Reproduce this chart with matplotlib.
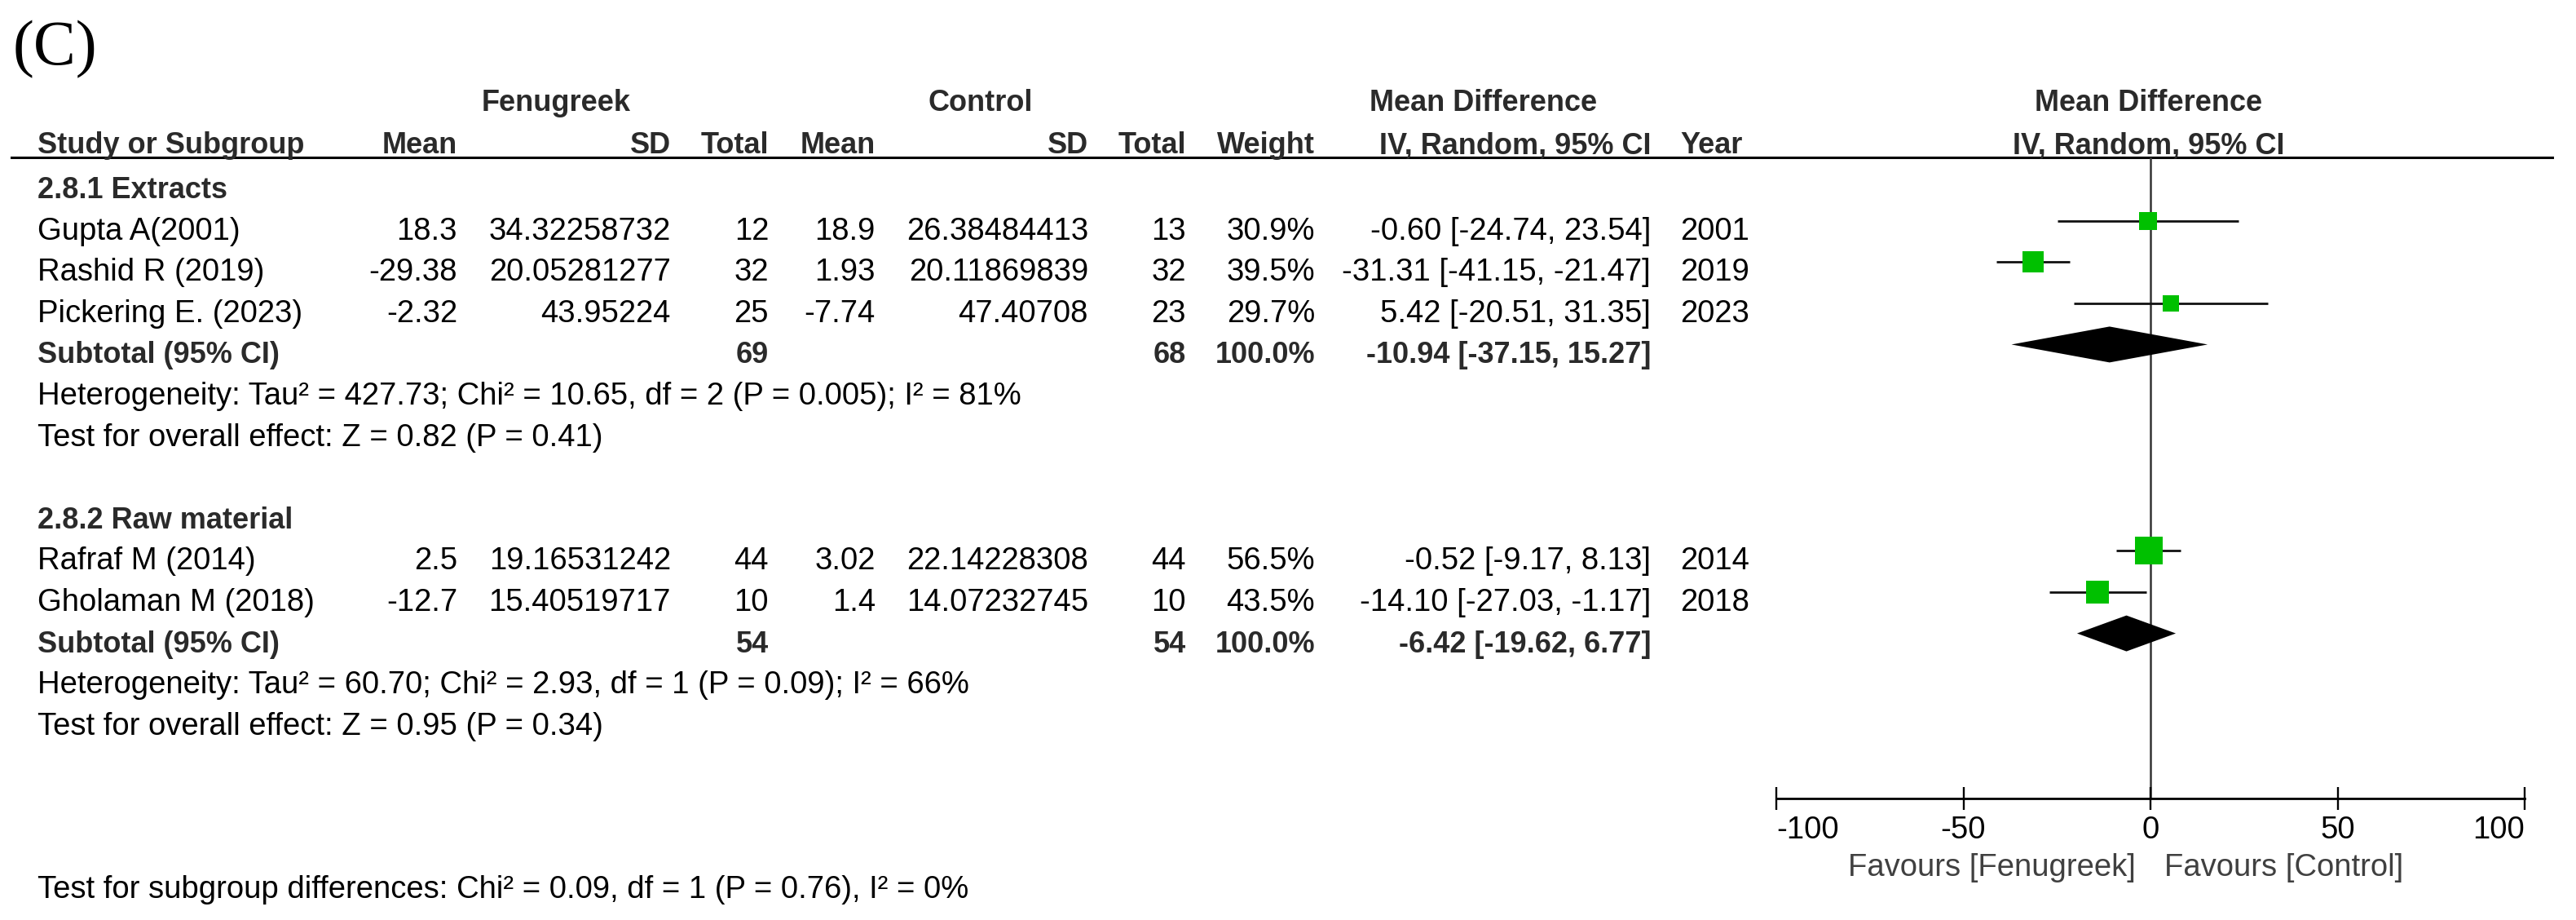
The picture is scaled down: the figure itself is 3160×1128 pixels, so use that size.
import numpy as np
import matplotlib
matplotlib.use('Agg')
import matplotlib.pyplot as plt

plt.rcParams['font.family'] = ['Liberation Sans', 'DejaVu Sans']

# ---- data ----
groups = ['2.8.1 Extracts', '2.8.2 Raw material']
study = ['Gupta A(2001)', 'Rashid R (2019)', 'Pickering E. (2023)',
         'Rafraf M (2014)', 'Gholaman M (2018)']
study_group = [0, 0, 0, 1, 1]
fen_mean = [18.3, -29.38, -2.32, 2.5, -12.7]
fen_sd = [34.32258732, 20.05281277, 43.95224, 19.16531242, 15.40519717]
fen_n = [12, 32, 25, 44, 10]
ctl_mean = [18.9, 1.93, -7.74, 3.02, 1.4]
ctl_sd = [26.38484413, 20.11869839, 47.40708, 22.14228308, 14.07232745]
ctl_n = [13, 32, 23, 44, 10]
weight = [30.9, 39.5, 29.7, 56.5, 43.5]
md = [-0.60, -31.31, 5.42, -0.52, -14.10]
ci_lo = [-24.74, -41.15, -20.51, -9.17, -27.03]
ci_hi = [23.54, -21.47, 31.35, 8.13, -1.17]
year = [2001, 2019, 2023, 2014, 2018]

sub_md = [-10.94, -6.42]
sub_lo = [-37.15, -19.62]
sub_hi = [15.27, 6.77]
het_text = ['Heterogeneity: Tau² = 427.73; Chi² = 10.65, df = 2 (P = 0.005); I² = 81%',
            'Heterogeneity: Tau² = 60.70; Chi² = 2.93, df = 1 (P = 0.09); I² = 66%']
effect_text = ['Test for overall effect: Z = 0.82 (P = 0.41)',
               'Test for overall effect: Z = 0.95 (P = 0.34)']
subgroup_text = 'Test for subgroup differences: Chi² = 0.09, df = 1 (P = 0.76), I² = 0%'
xticks = [-100, -50, 0, 50, 100]

# ---- layout (pixels) ----
W, H = 3160, 1128
row_y0, row_step = 243, 50.6
mark_off = 23
col = dict(name=46, f_mean=561, f_sd=823, f_n=943, c_mean=1074, c_sd=1335,
           c_n=1455, weight=1613, ci=2025, year=2061)
green = '#00C000'

fig = plt.figure(figsize=(W / 100, H / 100), dpi=100)
tab = fig.add_axes([0, 0, 1, 1])
tab.set_xlim(0, W)
tab.set_ylim(H, 0)
tab.axis('off')


def put(x, y, s, ha='right', bold=False, color='black', size=None):
    if size is None:
        size = 26 if bold else 27.5
    tab.text(x, y, s, ha=ha, va='baseline', fontsize=size,
             fontweight='bold' if bold else 'normal', color=color)


def base(i):
    return row_y0 + row_step * i


# panel label
tab.text(16, 79, '(C)', fontsize=56, family=['Liberation Serif', 'DejaVu Serif'],
         ha='left', va='baseline')

# headers
hc = '#2a2a2a'
put(682, 136, 'Fenugreek', ha='center', bold=True, color=hc)
put(1203, 136, 'Control', ha='center', bold=True, color=hc)
put(1820, 136, 'Mean Difference', ha='center', bold=True, color=hc)
put(2636, 136, 'Mean Difference', ha='center', bold=True, color=hc)
put(col['name'], 188, 'Study or Subgroup', ha='left', bold=True, color=hc)
put(col['f_mean'], 188, 'Mean', bold=True, color=hc)
put(col['f_sd'], 188, 'SD', bold=True, color=hc)
put(col['f_n'], 188, 'Total', bold=True, color=hc)
put(col['c_mean'], 188, 'Mean', bold=True, color=hc)
put(col['c_sd'], 188, 'SD', bold=True, color=hc)
put(col['c_n'], 188, 'Total', bold=True, color=hc)
put(col['weight'], 188, 'Weight', bold=True, color=hc)
put(col['ci'], 188, 'IV, Random, 95% CI', bold=True, color=hc)
put(col['year'], 188, 'Year', ha='left', bold=True, color=hc)
put(2636, 188, 'IV, Random, 95% CI', ha='center', bold=True, color=hc)
tab.plot([14, 3131], [193, 193], color='black', lw=2.2)

# forest axes
x0, x1 = 2179, 3097
y_top, y_axis = 193, 979
fx = fig.add_axes([x0 / W, 1 - y_axis / H, (x1 - x0) / W, (y_axis - y_top) / H])
fx.set_xlim(-100, 100)
fx.set_ylim(y_axis, y_top)
fx.patch.set_visible(False)
for s in ['top', 'left', 'right']:
    fx.spines[s].set_visible(False)
fx.spines['bottom'].set_linewidth(2.0)
fx.set_yticks([])
fx.set_xticks(xticks)
fx.set_xticklabels([str(t) for t in xticks])
fx.tick_params(axis='x', direction='inout', length=20, width=1.7, pad=5, labelsize=27.5)
labs = fx.get_xticklabels()
labs[0].set_ha('left')
labs[-1].set_ha('right')
fx.axvline(0, color='#333333', lw=1.8, zorder=1)

# rows
i = 0
for g in range(len(groups)):
    put(col['name'], base(i), groups[g], ha='left', bold=True, color=hc)
    i += 1
    idx = [k for k in range(len(study)) if study_group[k] == g]
    for k in idx:
        y = base(i)
        put(col['name'], y, study[k], ha='left')
        put(col['f_mean'], y, f'{fen_mean[k]:g}')
        put(col['f_sd'], y, str(fen_sd[k]))
        put(col['f_n'], y, str(fen_n[k]))
        put(col['c_mean'], y, f'{ctl_mean[k]:g}')
        put(col['c_sd'], y, str(ctl_sd[k]))
        put(col['c_n'], y, str(ctl_n[k]))
        put(col['weight'], y, f'{weight[k]:.1f}%')
        put(col['ci'], y, f'{md[k]:.2f} [{ci_lo[k]:.2f}, {ci_hi[k]:.2f}]')
        put(col['year'], y, str(year[k]), ha='left')
        ym = y - mark_off
        fx.hlines(ym, ci_lo[k], ci_hi[k], color='#111111', lw=2, zorder=2)
        side = 5.5 + 0.52 * weight[k]
        fx.plot(md[k], ym, marker='s', ms=side * 0.72, color=green, mec=green,
                mew=0, linestyle='none', zorder=3)
        i += 1
    y = base(i)
    put(col['name'], y, 'Subtotal (95% CI)', ha='left', bold=True, color=hc)
    put(col['f_n'], y, str(sum(fen_n[k] for k in idx)), bold=True, color=hc)
    put(col['c_n'], y, str(sum(ctl_n[k] for k in idx)), bold=True, color=hc)
    put(col['weight'], y, '100.0%', bold=True, color=hc)
    put(col['ci'], y, f'{sub_md[g]:.2f} [{sub_lo[g]:.2f}, {sub_hi[g]:.2f}]',
        bold=True, color=hc)
    ym = y - mark_off
    fx.fill([sub_lo[g], sub_md[g], sub_hi[g], sub_md[g]],
            [ym, ym - 22, ym, ym + 22], color='black', lw=0, zorder=3)
    i += 1
    put(col['name'], base(i), het_text[g], ha='left')
    i += 1
    put(col['name'], base(i), effect_text[g], ha='left')
    i += 2

# favours labels and subgroup test
put(2620, 1074, 'Favours [Fenugreek]', ha='right', color='#404040')
put(2655, 1074, 'Favours [Control]', ha='left', color='#404040')
put(col['name'], 1101, subgroup_text, ha='left')

fig.savefig('out.png', dpi=100)
